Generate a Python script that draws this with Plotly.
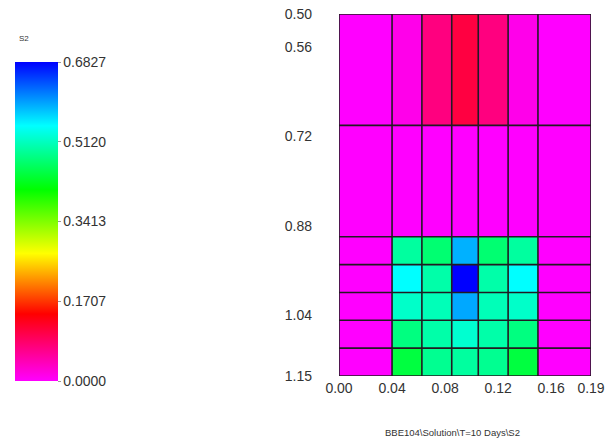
import plotly.graph_objects as go

# Cell edges of the grid (x: width, y: depth)
x_edges = [0.0, 0.04, 0.0625, 0.085, 0.105, 0.1275, 0.15, 0.19]
y_edges = [0.50, 0.70, 0.90, 0.95, 1.00, 1.05, 1.10, 1.15]

# S2 value per cell, rows from top (0.50) to bottom (1.15)
s2_values = [
    [0.000, 0.012, 0.072, 0.107, 0.072, 0.012, 0.000],
    [0.000, 0.000, 0.000, 0.000, 0.000, 0.000, 0.000],
    [0.000, 0.495, 0.470, 0.588, 0.470, 0.495, 0.000],
    [0.000, 0.546, 0.500, 0.6827, 0.500, 0.546, 0.000],
    [0.000, 0.517, 0.508, 0.593, 0.508, 0.517, 0.000],
    [0.000, 0.478, 0.500, 0.521, 0.500, 0.478, 0.000],
    [0.000, 0.444, 0.487, 0.495, 0.487, 0.444, 0.000],
]

x_ticks = [0.00, 0.04, 0.08, 0.12, 0.16, 0.19]
y_ticks = [0.50, 0.56, 0.72, 0.88, 1.04, 1.15]
cbar_ticks = [0.0, 0.1707, 0.3413, 0.5120, 0.6827]
z_min, z_max = 0.0, 0.6827

rainbow = [
    [0.00, "#ff00ff"],
    [0.21, "#ff0000"],
    [0.40, "#ffff00"],
    [0.60, "#00ff00"],
    [0.80, "#00ffff"],
    [1.00, "#0000ff"],
]

W, H = 616, 441
M_L, M_R, M_T, M_B = 339, 25, 14, 65
PW, PH = W - M_L - M_R, H - M_T - M_B
font_col = "#333333"


def px_x(p):
    return (p - M_L) / PW


def px_y(p):
    return (H - M_B - p) / PH


fig = go.Figure(
    go.Heatmap(
        x=x_edges,
        y=y_edges,
        z=s2_values,
        zmin=z_min,
        zmax=z_max,
        colorscale=rainbow,
        colorbar=dict(
            xref="container",
            x=15 / W,
            xanchor="left",
            yref="paper",
            y=px_y(381),
            yanchor="bottom",
            len=(381 - 62) / PH,
            lenmode="fraction",
            thickness=43,
            thicknessmode="pixels",
            outlinewidth=0,
            tickvals=cbar_ticks,
            ticktext=[f"{v:.4f}" for v in cbar_ticks],
            ticks="outside",
            ticklen=3,
            tickcolor="#999999",
            tickfont=dict(family="Liberation Sans, Arial", size=14, color=font_col),
            ypad=0,
            xpad=0,
        ),
        hoverinfo="skip",
    )
)

# Cell borders from the edge arrays
line_style = dict(color="#221a22", width=1.6)
shapes = []
for xe in x_edges:
    shapes.append(dict(type="line", xref="x", yref="y", x0=xe, x1=xe,
                       y0=y_edges[0], y1=y_edges[-1], line=line_style, layer="above"))
for ye in y_edges:
    shapes.append(dict(type="line", xref="x", yref="y", x0=x_edges[0], x1=x_edges[-1],
                       y0=ye, y1=ye, line=line_style, layer="above"))

fig.update_layout(
    width=W,
    height=H,
    margin=dict(l=M_L, r=M_R, t=M_T, b=M_B, autoexpand=False),
    paper_bgcolor="white",
    plot_bgcolor="white",
    shapes=shapes,
    font=dict(family="Liberation Sans, Arial", size=14, color=font_col),
    xaxis=dict(
        range=[x_edges[0], x_edges[-1]],
        tickvals=x_ticks,
        ticktext=[f"{v:.2f}" for v in x_ticks],
        showgrid=False,
        zeroline=False,
        showline=False,
        ticks="",
        ticklabelstandoff=2,
        tickfont=dict(size=14, color=font_col),
    ),
    yaxis=dict(
        range=[y_edges[-1], y_edges[0]],
        tickvals=y_ticks,
        ticktext=[f"{v:.2f}" for v in y_ticks],
        showgrid=False,
        zeroline=False,
        showline=False,
        ticks="",
        ticklabelstandoff=26,
        tickfont=dict(size=14, color=font_col),
    ),
    annotations=[
        dict(text="S2", xref="paper", yref="paper",
             x=px_x(24), y=px_y(38),
             xanchor="center", yanchor="middle", showarrow=False,
             font=dict(size=8, color=font_col)),
        dict(text=r"BBE104\Solution\T=10 Days\S2", xref="paper", yref="paper",
             x=px_x(452), y=px_y(432),
             xanchor="center", yanchor="middle", showarrow=False,
             font=dict(size=9.5, color=font_col)),
    ],
)

fig.write_html("out.html")
